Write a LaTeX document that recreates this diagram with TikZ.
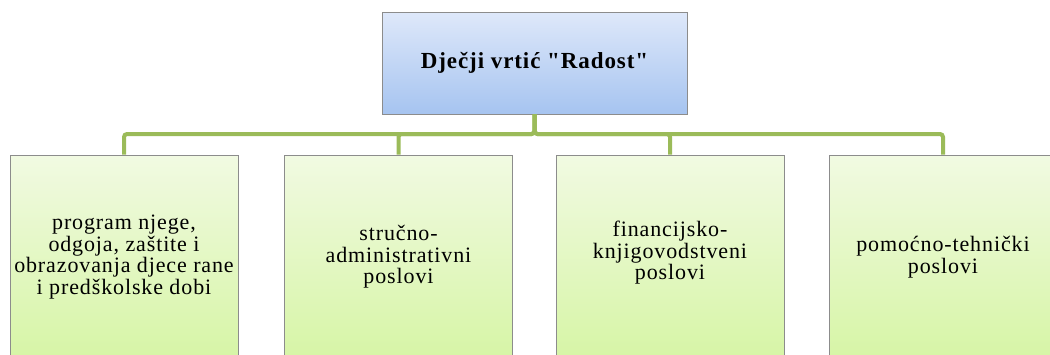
\documentclass[tikz,border=0pt]{standalone}
\usepackage{fontspec}
\setmainfont{Liberation Serif}
\newfontfamily\tms[LetterSpace=4]{Liberation Serif}
\begin{document}
\begin{tikzpicture}[x=1pt,y=-1pt,
  rootbox/.style={draw=black!45, line width=0.8pt, top color={rgb,255:red,222;green,232;blue,250}, bottom color={rgb,255:red,166;green,196;blue,240},
    minimum width=305pt, minimum height=102pt, inner sep=0pt, font=\tms\fontsize{23}{27}\selectfont\bfseries},
  childbox/.style={draw=black!45, line width=0.8pt, top color={rgb,255:red,241;green,250;blue,226}, bottom color={rgb,255:red,214;green,245;blue,165},
    minimum width=228pt, minimum height=206pt, inner sep=0pt},
  lbl/.style={align=center, inner sep=0pt, font=\tms\fontsize{22}{21.5}\selectfont},
  conn/.style={draw={rgb,255:red,155;green,187;blue,89}, line width=4pt, rounded corners=3pt}]
\useasboundingbox (0,0) rectangle (1050,354);
\clip (0,0) rectangle (1050,354);
\node[rootbox] (root) at (534.5,63) {Dječji vrtić \symbol{34}Radost\symbol{34}};
\node[childbox] (c1) at (124,258) {};
\node[childbox] (c2) at (398.5,258) {};
\node[childbox] (c3) at (670,258) {};
\node[childbox] (c4) at (943,258) {};
\node[lbl] (t1) at (124,257) {program njege,\\ odgoja, zaštite i\\ obrazovanja djece rane\\ i predškolske dobi};
\node[lbl] (t2) at (398.5,257) {stručno-\\ administrativni\\ poslovi};
\node[lbl] (t3) at (670,253) {financijsko-\\ knjigovodstveni\\ poslovi};
\node[lbl] (t4) at (943,257) {pomoćno-tehnički\\ poslovi};
\coordinate (bar) at (534.5,134);
\draw[conn] (root.south) -- (bar) -| (c1.north);
\draw[conn] (root.south) -- (bar) -| (c2.north);
\draw[conn] (root.south) -- (bar) -| (c3.north);
\draw[conn] (root.south) -- (bar) -| (c4.north);
\end{tikzpicture}
\end{document}
